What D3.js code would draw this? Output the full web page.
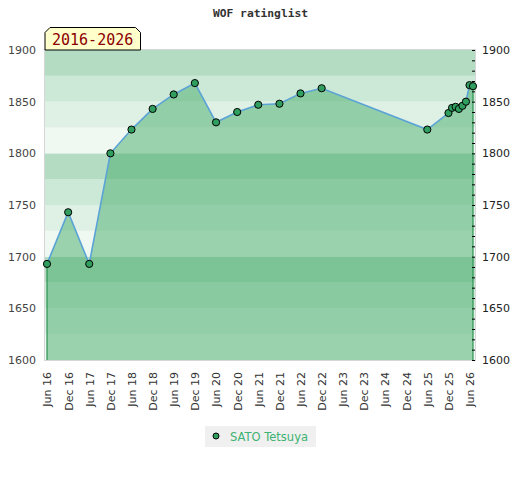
<!DOCTYPE html>
<html>
<head>
<meta charset="utf-8">
<script src="https://cdn.jsdelivr.net/npm/d3@7"></script>
<style>
  body { margin: 0; background: #fff; }
  text { font-family: "DejaVu Sans", sans-serif; }
</style>
</head>
<body>
<div id="chart"></div>
<script>
const chartTitle = "WOF ratinglist";
const periodLabel = "2016-2026";
const playerName = "SATO Tetsuya";

const listDates = ["2016-06", "2016-12", "2017-06", "2017-12", "2018-06", "2018-12",
  "2019-06", "2019-12", "2020-06", "2020-12", "2021-06", "2021-12", "2022-06", "2022-12",
  "2025-06", "2025-12", "2026-01", "2026-02", "2026-03", "2026-04", "2026-05", "2026-06", "2026-07"];
const ratings = [1693, 1743, 1693, 1800, 1823, 1843, 1857, 1868, 1830, 1840, 1847, 1848, 1858, 1863,
  1823, 1839, 1844, 1845, 1843, 1846, 1850, 1866, 1865];

const yTicks = [1600, 1650, 1700, 1750, 1800, 1850, 1900];
const bandColors = ["#b3dcc2", "#cce8d6", "#dff0e5", "#f0f8f2"];

const width = 520, height = 480;
const plot = { left: 45, right: 475, top: 50, bottom: 360 };

const parse = d3.timeParse("%Y-%m");
const data = listDates.map((d, i) => ({ date: parse(d), value: ratings[i] }));

const svg = d3.select("#chart").append("svg")
  .attr("width", width)
  .attr("height", height);

const x = d3.scaleTime()
  .domain([data[0].date, data[data.length - 1].date])
  .range([47, 473]);
const y = d3.scaleLinear()
  .domain([1600, 1900])
  .range([plot.bottom, plot.top]);

// title
svg.append("text")
  .attr("x", 260.5)
  .attr("y", 17)
  .attr("text-anchor", "middle")
  .style("font-family", "'DejaVu Sans Mono', monospace")
  .style("font-weight", "bold")
  .style("font-size", "11.3px")
  .attr("fill", "#333")
  .text(chartTitle);

// background bands, 25 points each
const bands = d3.range(1600, 1900, 25);
svg.selectAll(".band")
  .data(bands)
  .enter()
  .append("rect")
  .attr("class", "band")
  .attr("x", plot.left)
  .attr("width", plot.right - plot.left)
  .attr("y", d => y(d + 25))
  .attr("height", d => y(d) - y(d + 25))
  .attr("fill", d => bandColors[3 - ((d - 1600) / 25) % 4]);

// area under the rating line
const area = d3.area()
  .x(d => x(d.date))
  .y0(y(1600))
  .y1(d => y(d.value));

svg.append("path")
  .datum(data)
  .attr("fill", "rgb(70,172,105)")
  .attr("fill-opacity", 0.5)
  .attr("d", area);

// vertical edges of the area
const first = data[0], last = data[data.length - 1];
[first, last].forEach(d => {
  svg.append("line")
    .attr("x1", x(d.date)).attr("x2", x(d.date))
    .attr("y1", y(d.value)).attr("y2", y(1600))
    .attr("stroke", "#2a9350")
    .attr("stroke-width", 1.2);
});

// plot border
svg.append("rect")
  .attr("x", plot.left - 0.5)
  .attr("y", plot.top - 0.5)
  .attr("width", plot.right - plot.left + 1)
  .attr("height", plot.bottom - plot.top + 1)
  .attr("fill", "none")
  .attr("stroke", "#d6d6d6");

// rating line
const line = d3.line()
  .x(d => x(d.date))
  .y(d => y(d.value));

svg.append("path")
  .datum(data)
  .attr("fill", "none")
  .attr("stroke", "#5ba3d6")
  .attr("stroke-width", 1.6)
  .attr("d", line);

svg.selectAll(".pt")
  .data(data)
  .enter()
  .append("circle")
  .attr("class", "pt")
  .attr("cx", d => x(d.date))
  .attr("cy", d => y(d.value))
  .attr("r", 3.6)
  .attr("fill", "#2f9e5e")
  .attr("stroke", "#000")
  .attr("stroke-width", 1);

// left axis
const leftAxis = svg.append("g")
  .attr("transform", `translate(${plot.left}, 0)`)
  .call(d3.axisLeft(y).tickValues(yTicks).tickSize(0).tickPadding(9).tickFormat(d3.format("d")));
leftAxis.select(".domain").remove();
leftAxis.selectAll("text")
  .style("font-family", "'DejaVu Sans', sans-serif")
  .style("font-size", "11px")
  .attr("fill", "#444");

// right axis: minor ticks every 10, labels every 50
const rightTicks = svg.append("g")
  .attr("transform", `translate(${plot.right}, 0)`)
  .call(d3.axisLeft(y).ticks(30).tickSize(3).tickFormat(""));
rightTicks.select(".domain").remove();
rightTicks.selectAll("line").attr("stroke", "#000");

const rightAxis = svg.append("g")
  .attr("transform", `translate(${plot.right}, 0)`)
  .call(d3.axisRight(y).tickValues(yTicks).tickSize(0).tickPadding(7).tickFormat(d3.format("d")));
rightAxis.select(".domain").remove();
rightAxis.selectAll("text")
  .style("font-family", "'DejaVu Sans', sans-serif")
  .style("font-size", "11px")
  .attr("fill", "#222");

// bottom axis, half-year ticks
const xTicks = d3.timeMonth.range(parse("2016-06"), parse("2026-07"))
  .filter(d => d.getMonth() === 5 || d.getMonth() === 11);
const bottomAxis = svg.append("g")
  .attr("transform", `translate(0, ${plot.bottom})`)
  .call(d3.axisBottom(x).tickValues(xTicks).tickSize(0).tickFormat(d3.timeFormat("%b %y")));
bottomAxis.select(".domain").remove();
bottomAxis.selectAll("text")
  .style("font-family", "'DejaVu Sans', sans-serif")
  .style("font-size", "11px")
  .attr("fill", "#333")
  .attr("text-anchor", "end")
  .attr("transform", "rotate(-90)")
  .attr("x", -12)
  .attr("y", 0)
  .attr("dy", "0.35em");

// period label box with cut corners
const bx0 = 45, bx1 = 140.5, by0 = 27.5, by1 = 50, cut = 5;
svg.append("path")
  .attr("d", `M${bx0},${by1} L${bx0},${by0 + cut} L${bx0 + cut},${by0} L${bx1 - cut},${by0} L${bx1},${by0 + cut} L${bx1},${by1} Z`)
  .attr("fill", "#ffffcc")
  .attr("stroke", "#000")
  .attr("stroke-width", 1);

svg.append("text")
  .attr("x", 52)
  .attr("y", 45)
  .style("font-family", "'DejaVu Sans Mono', monospace")
  .style("font-size", "15px")
  .attr("fill", "#8b0000")
  .text(periodLabel);

// legend
const legend = svg.append("g").attr("transform", "translate(205, 426)");
legend.append("rect")
  .attr("width", 111)
  .attr("height", 21)
  .attr("fill", "#f0f0f0");
legend.append("circle")
  .attr("cx", 11)
  .attr("cy", 10)
  .attr("r", 3)
  .attr("fill", "#2f9e5e")
  .attr("stroke", "#000");
legend.append("text")
  .attr("x", 25)
  .attr("y", 14.5)
  .style("font-size", "11.5px")
  .attr("fill", "#3cb371")
  .text(playerName);
</script>
</body>
</html>
